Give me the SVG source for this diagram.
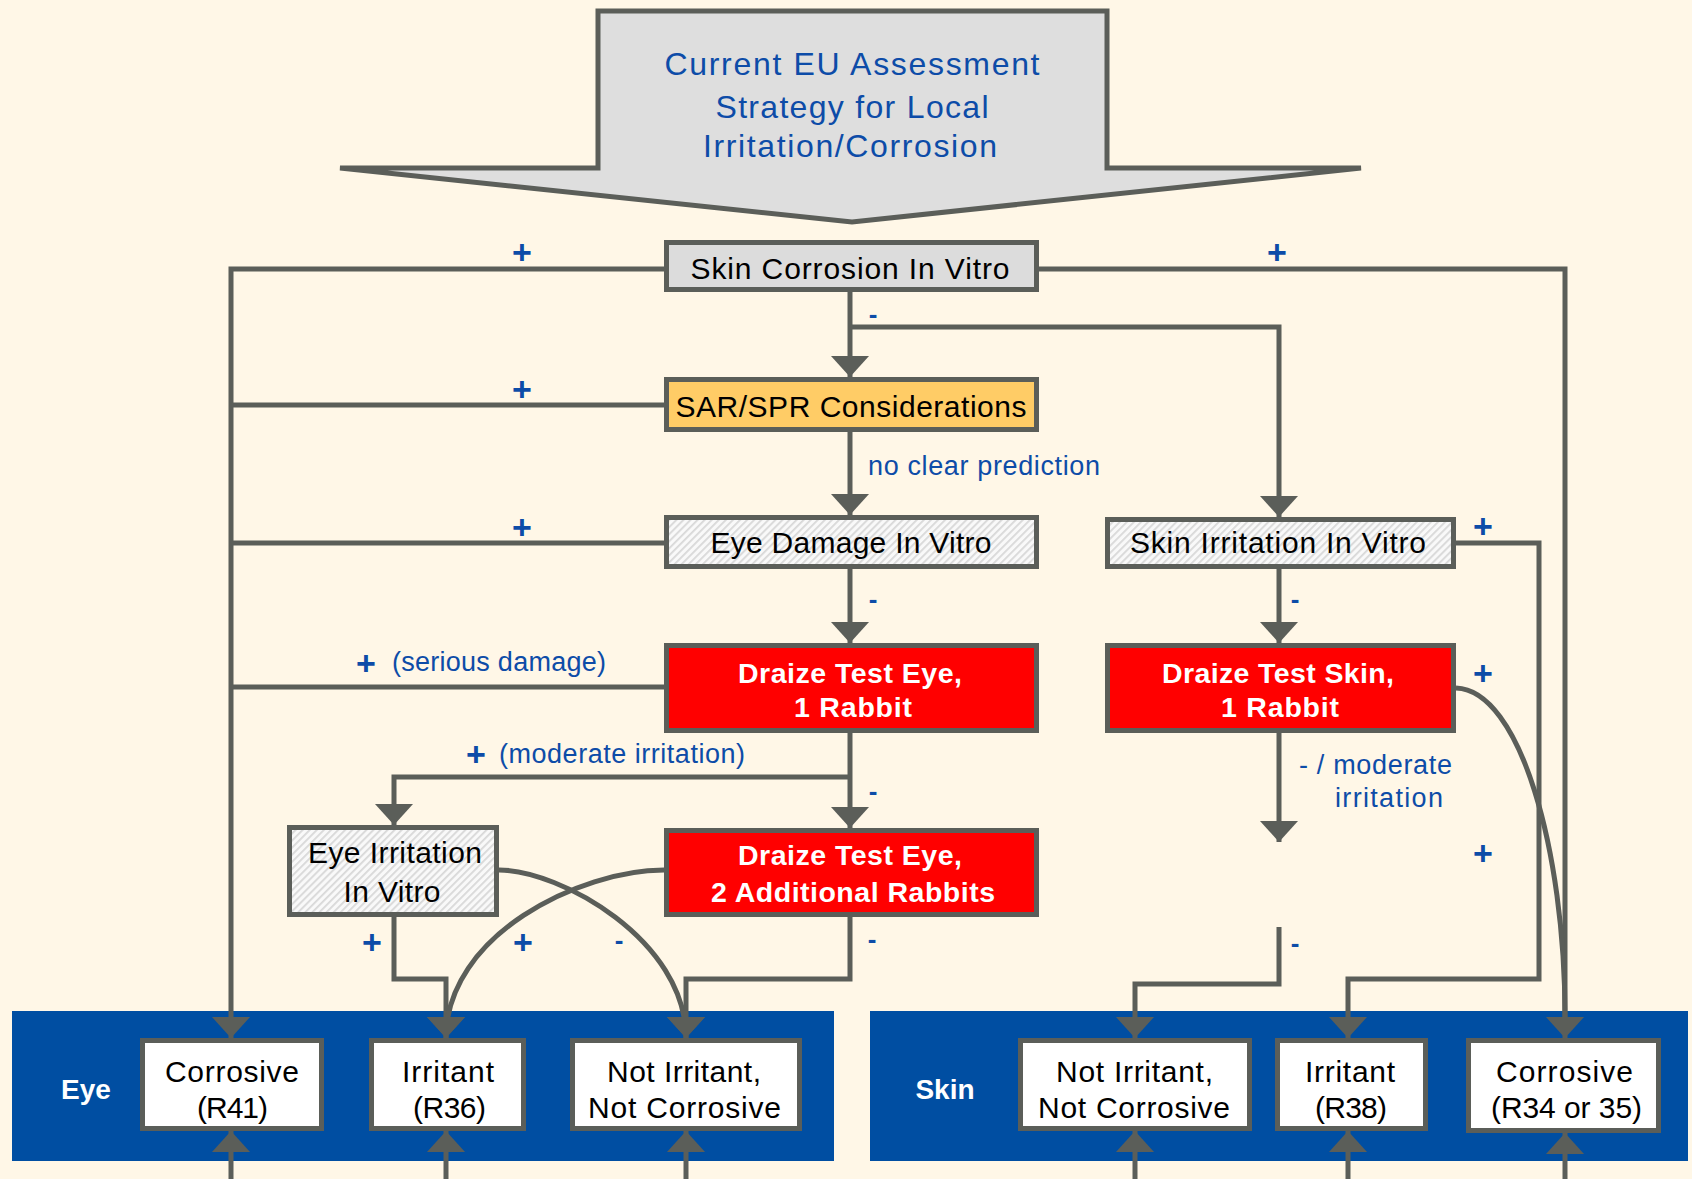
<svg xmlns="http://www.w3.org/2000/svg" width="1692" height="1179" viewBox="0 0 1692 1179">
<style>
.ln{fill:none;stroke:#5B5E59;stroke-width:5}
.bx{stroke:#5B5E59;stroke-width:5}
.t{font-family:"Liberation Sans",Arial,sans-serif;font-size:30px;fill:#000;text-anchor:middle}
.tw{font-family:"Liberation Sans",Arial,sans-serif;font-size:28.5px;font-weight:bold;fill:#fff;text-anchor:middle}
.ti{font-family:"Liberation Sans",Arial,sans-serif;font-size:32px;fill:#0D4CA8;text-anchor:middle}
.lb{font-family:"Liberation Sans",Arial,sans-serif;font-size:27px;fill:#0D4CA8}
.pl{font-family:"Liberation Sans",Arial,sans-serif;font-size:34px;font-weight:bold;fill:#0D4CA8;text-anchor:middle}
.mi{font-family:"Liberation Sans",Arial,sans-serif;font-size:26px;font-weight:bold;fill:#0D4CA8;text-anchor:middle}
.bl{font-family:"Liberation Sans",Arial,sans-serif;font-size:28px;font-weight:bold;fill:#fff;text-anchor:middle}
</style>
<defs>
<marker id="ar" markerUnits="userSpaceOnUse" markerWidth="21" markerHeight="38" viewBox="0 0 21 38" refX="21" refY="19" orient="auto">
<path d="M0,0 L21,19 L0,38 Z" fill="#5B5E59"/>
</marker>
<pattern id="hatch" patternUnits="userSpaceOnUse" width="5" height="5" patternTransform="rotate(45)">
<rect width="5" height="5" fill="#F9F9F9"/>
<rect width="1.8" height="5" fill="#D8D8D8"/>
</pattern>
</defs>
<rect width="1692" height="1179" fill="#FFF7E7"/>

<g id="title">
<polygon points="598,11 1107,11 1107,168 1361,168 852,222 340,168 598,168" fill="#DEDEDE" stroke="#5B5E59" stroke-width="5"/>
<text class="ti" x="852" y="75" textLength="375">Current EU Assessment</text>
<text class="ti" x="852" y="118" textLength="273">Strategy for Local</text>
<text class="ti" x="850" y="157" textLength="294">Irritation/Corrosion</text>
</g>

<g id="eye-band"><rect x="12" y="1011" width="822" height="150" fill="#004EA2"/><text class="bl" x="86" y="1099">Eye</text></g>
<g id="skin-band"><rect x="870" y="1011" width="818" height="150" fill="#004EA2"/><text class="bl" x="945" y="1099">Skin</text></g>

<g id="connectors">
<path class="ln" d="M664,269 H231 V1038" marker-end="url(#ar)"/>
<path class="ln" d="M1039,269 H1565 V1038" marker-end="url(#ar)"/>
<path class="ln" d="M850,292 V377" marker-end="url(#ar)"/>
<path class="ln" d="M850,327 H1279 V517" marker-end="url(#ar)"/>
<path class="ln" d="M664,405 H231"/>
<path class="ln" d="M850,432 V515" marker-end="url(#ar)"/>
<path class="ln" d="M664,543 H231"/>
<path class="ln" d="M850,569 V643" marker-end="url(#ar)"/>
<path class="ln" d="M1456,543 H1539 V979 H1348 V1038" marker-end="url(#ar)"/>
<path class="ln" d="M1279,569 V643" marker-end="url(#ar)"/>
<path class="ln" d="M664,687 H231"/>
<path class="ln" d="M850,733 V828" marker-end="url(#ar)"/>
<path class="ln" d="M850,777 H394 V825" marker-end="url(#ar)"/>
<path class="ln" d="M394,917 V979 H446 V1038" marker-end="url(#ar)"/>
<path class="ln" d="M499,870 C560,870 686,940 686,1038" marker-end="url(#ar)"/>
<path class="ln" d="M664,870 C580,870 446,935 446,1038" marker-end="url(#ar)"/>
<path class="ln" d="M850,917 V979 H686 V1038" marker-end="url(#ar)"/>
<path class="ln" d="M1279,733 V842" marker-end="url(#ar)"/>
<path class="ln" d="M1279,927 V984 H1135 V1038" marker-end="url(#ar)"/>
<path class="ln" d="M1456,688 C1520,690 1565,850 1565,1017"/>
<path class="ln" d="M231,1179 V1131" marker-end="url(#ar)"/>
<path class="ln" d="M446,1179 V1131" marker-end="url(#ar)"/>
<path class="ln" d="M686,1179 V1131" marker-end="url(#ar)"/>
<path class="ln" d="M1135,1179 V1131" marker-end="url(#ar)"/>
<path class="ln" d="M1348,1179 V1131" marker-end="url(#ar)"/>
<path class="ln" d="M1565,1179 V1133" marker-end="url(#ar)"/>
</g>

<g id="skin-corrosion-in-vitro"><rect class="bx" x="666.5" y="242.5" width="370" height="47" fill="#DCDCDC"/><text class="t" x="850" y="279" textLength="319">Skin Corrosion In Vitro</text></g>
<g id="sar-spr"><rect class="bx" x="666.5" y="379.5" width="370" height="50" fill="#FFCC66"/><text class="t" x="851" y="417" textLength="351">SAR/SPR Considerations</text></g>
<g id="eye-damage-in-vitro"><rect class="bx" x="666.5" y="517.5" width="370" height="49" fill="url(#hatch)"/><text class="t" x="851" y="553" textLength="281">Eye Damage In Vitro</text></g>
<g id="skin-irritation-in-vitro"><rect class="bx" x="1107.5" y="519.5" width="346" height="47" fill="url(#hatch)"/><text class="t" x="1278" y="553" textLength="296">Skin Irritation In Vitro</text></g>
<g id="draize-eye-1"><rect class="bx" x="666.5" y="645.5" width="370" height="85" fill="#FF0000"/><text class="tw" x="850" y="683" textLength="224">Draize Test Eye,</text><text class="tw" x="853" y="717" textLength="118">1 Rabbit</text></g>
<g id="draize-skin-1"><rect class="bx" x="1107.5" y="645.5" width="346" height="85" fill="#FF0000"/><text class="tw" x="1278" y="683" textLength="232">Draize Test Skin,</text><text class="tw" x="1280" y="717" textLength="118">1 Rabbit</text></g>
<g id="eye-irritation-in-vitro"><rect class="bx" x="289.5" y="827.5" width="207" height="87" fill="url(#hatch)"/><text class="t" x="395" y="863" textLength="174">Eye Irritation</text><text class="t" x="392" y="902" textLength="97">In Vitro</text></g>
<g id="draize-eye-2"><rect class="bx" x="666.5" y="830.5" width="370" height="84" fill="#FF0000"/><text class="tw" x="850" y="865" textLength="224">Draize Test Eye,</text><text class="tw" x="853" y="902" textLength="284">2 Additional Rabbits</text></g>

<g id="eye-corrosive"><rect class="bx" x="142.5" y="1040.5" width="179" height="88" fill="#fff"/><text class="t" x="232" y="1082" textLength="134">Corrosive</text><text class="t" x="232.5" y="1118" textLength="71">(R41)</text></g>
<g id="eye-irritant"><rect class="bx" x="371.5" y="1040.5" width="152" height="88" fill="#fff"/><text class="t" x="448" y="1082" textLength="92">Irritant</text><text class="t" x="449.5" y="1118" textLength="73">(R36)</text></g>
<g id="eye-not-irritant"><rect class="bx" x="572.5" y="1040.5" width="227" height="88" fill="#fff"/><text class="t" x="684" y="1082" textLength="154">Not Irritant,</text><text class="t" x="684.5" y="1118" textLength="193">Not Corrosive</text></g>
<g id="skin-not-irritant"><rect class="bx" x="1020.5" y="1040.5" width="229" height="88" fill="#fff"/><text class="t" x="1134.5" y="1082" textLength="157">Not Irritant,</text><text class="t" x="1134" y="1118" textLength="192">Not Corrosive</text></g>
<g id="skin-irritant"><rect class="bx" x="1277.5" y="1040.5" width="148" height="88" fill="#fff"/><text class="t" x="1350" y="1082" textLength="90">Irritant</text><text class="t" x="1351" y="1118" textLength="72">(R38)</text></g>
<g id="skin-corrosive"><rect class="bx" x="1468.5" y="1040.5" width="190" height="90" fill="#fff"/><text class="t" x="1564.5" y="1082" textLength="137">Corrosive</text><text class="t" x="1566.5" y="1118" textLength="151">(R34 or 35)</text></g>

<g id="labels">
<text class="pl" x="522" y="264">+</text>
<text class="pl" x="1277" y="264">+</text>
<text class="pl" x="522" y="401">+</text>
<text class="pl" x="522" y="539">+</text>
<text class="pl" x="1483" y="538">+</text>
<text class="pl" x="366" y="675">+</text>
<text class="pl" x="476" y="766">+</text>
<text class="pl" x="1483" y="685">+</text>
<text class="pl" x="1483" y="865">+</text>
<text class="pl" x="372" y="954">+</text>
<text class="pl" x="523" y="954">+</text>
<text class="mi" x="873" y="323">-</text>
<text class="mi" x="873" y="608">-</text>
<text class="mi" x="873" y="800">-</text>
<text class="mi" x="619" y="949">-</text>
<text class="mi" x="872" y="948">-</text>
<text class="mi" x="1295" y="608">-</text>
<text class="mi" x="1295" y="952">-</text>
<text class="lb" x="868" y="475" textLength="232">no clear prediction</text>
<text class="lb" x="392" y="671" textLength="214">(serious damage)</text>
<text class="lb" x="499" y="763" textLength="246">(moderate irritation)</text>
<text class="lb" x="1299" y="774" textLength="153">- / moderate</text>
<text class="lb" x="1335" y="807" textLength="108">irritation</text>
</g>
</svg>
